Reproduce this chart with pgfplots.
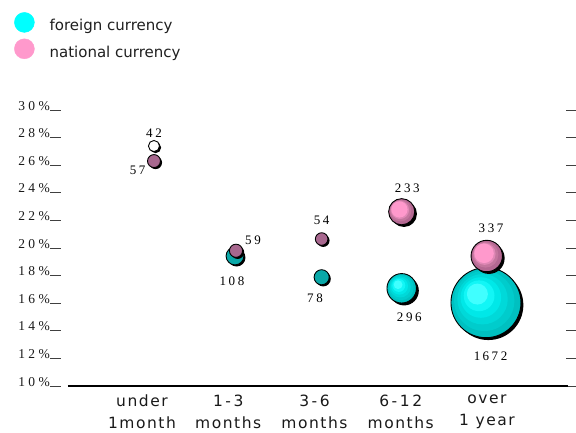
\documentclass[border=0pt]{standalone}
\usepackage{pgfplots}
\usepackage{pgfplotstable}
\pgfplotsset{compat=1.18}
\usepackage{fontspec}
\setmainfont{Liberation Serif}
\newfontfamily\catfont[LetterSpace=10]{DejaVu Sans}
\newfontfamily\legfont{DejaVu Sans}
\newfontfamily\numfont[LetterSpace=25]{Liberation Serif}
\newfontfamily\valfont[LetterSpace=20]{Liberation Serif}

\definecolor{legcyan}{HTML}{00FFFF}
\definecolor{legpink}{HTML}{FF99CC}
\definecolor{fsmall}{HTML}{0AA8A8}
\definecolor{nsmall}{HTML}{A8688F}
% ring colours of the large bubbles, from the rim inwards
\definecolor{fa}{HTML}{00C0C0}
\definecolor{fb}{HTML}{00CCCC}
\definecolor{fc}{HTML}{00D9D9}
\definecolor{fd}{HTML}{00E8E8}
\definecolor{fe}{HTML}{12F6F6}
\definecolor{ff}{HTML}{40FFFF}
\definecolor{na}{HTML}{B46892}
\definecolor{nb}{HTML}{C4769E}
\definecolor{nc}{HTML}{E088B6}
\definecolor{nd}{HTML}{FF99CC}

% bubble radius (pt) of the point being drawn
\def\bubr{2}

% one ring: #1 = share of the radius, #2 = colour, #3 = shift of its centre
% towards the upper left (share of the radius)
\newcommand\bubband[3]{%
  \pgfpathcircle{\pgfpoint{-(1-#1)*#3*\bubr pt}{(1-#1)*#3*\bubr pt}}{#1*\bubr pt}%
  \pgfsetfillcolor{#2}\pgfusepathqfill}
\newcommand\bubshadow[1]{%
  \pgfpathcircle{\pgfqpoint{#1}{-#1}}{\bubr pt}%
  \pgfsetfillcolor{black}\pgfusepathqfill}
\newcommand\bubrim{%
  \pgfpathcircle{\pgfpointorigin}{\bubr pt}%
  \pgfsetstrokecolor{black}\pgfsetlinewidth{0.9pt}\pgfusepathqstroke}

% bubble marks with a black drop shadow
\pgfdeclareplotmark{fball}{%
  \bubshadow{2.4pt}%
  \bubband{1}{fa}{0.35}\bubband{0.86}{fb}{0.35}\bubband{0.72}{fc}{0.35}%
  \bubband{0.58}{fd}{0.35}\bubband{0.44}{fe}{0.35}\bubband{0.3}{ff}{0.35}%
  \bubrim}
\pgfdeclareplotmark{nball}{%
  \bubshadow{2.2pt}%
  \bubband{1}{na}{0.45}\bubband{0.82}{nb}{0.45}\bubband{0.7}{nc}{0.45}%
  \bubband{0.62}{nd}{0.45}%
  \bubrim}
\pgfdeclareplotmark{fflat}{%
  \bubshadow{1.6pt}\bubband{1}{fsmall}{0}\bubrim}
\pgfdeclareplotmark{nflat}{%
  \bubshadow{1.6pt}\bubband{1}{nsmall}{0}\bubrim}
\pgfdeclareplotmark{wflat}{%
  \bubshadow{1.6pt}\bubband{1}{white}{0}\bubrim}

% x = maturity bucket, y = rate in %, v = volume, dx/dy = label offset (pt)
\pgfplotstableread{
x     y     v    dx    dy
1.139 27.39 42   0     12.7
}\foreignwhite
\pgfplotstableread{
x     y     v    dx    dy
2.078 19.42 108  -3    -25
3.083 17.88 78   -6.7  -21
}\foreignsmall
\pgfplotstableread{
x     y     v    dx    dy
4.011 17.08 296  7.6   -29.4
4.988 16.04 1672 4.7   -54
}\foreignlarge
\pgfplotstableread{
x     y     v    dx    dy
1.139 26.30 57   -16.3 -9
2.090 19.80 59   17    11
3.083 20.65 54   0     19
}\nationalsmall
\pgfplotstableread{
x     y     v    dx    dy
4.011 22.63 233  5.6   23.4
4.997 19.42 337  4.3   27.7
}\nationallarge

\pgfplotsset{
  bubble/.style={
    scatter, only marks, forget plot, mark=#1,
    point meta=\thisrow{v},
    scatter/use mapped color={draw=black, fill=black},
    visualization depends on={35*sqrt(\thisrow{v}/1672) \as \bubr},
    visualization depends on={\thisrow{dx} \as \ldx},
    visualization depends on={\thisrow{dy} \as \ldy},
    scatter/@pre marker code/.append style={/tikz/mark size=\bubr},
    nodes near coords={\pgfmathprintnumber[assume math mode=true, 1000 sep={\,}]{\pgfplotspointmeta}},
    every node near coord/.append style={anchor=center, xshift=\ldx pt, yshift=\ldy pt,
      font=\valfont\fontsize{13}{13}\selectfont, text=black, inner sep=0pt},
  },
}

\begin{document}
\begin{tikzpicture}
\path[use as bounding box] (-61pt,-46pt) rectangle (515pt,386pt);
\begin{axis}[
  at={(0pt,0pt)}, anchor=south west,
  scale only axis, width=505pt, height=276pt,
  xmin=0.061, xmax=5.916, ymin=10, ymax=30,
  clip=false,
  axis line style={draw=none},
  xtick={1,2,3,4,5},
  xticklabels={{under\\1month},{1\,-\,3\\months},{3\,-\,6\\months},{6\,-\,1\,2\\months},{over\\1 year}},
  xtick style={draw=none},
  xticklabel style={align=center, font=\catfont\fontsize{15.5}{22}\selectfont,
    text=black!90, inner sep=0pt, anchor=north, yshift=2pt},
  ytick={10,12,...,30},
  yticklabels={10\%,12\%,14\%,16\%,18\%,20\%,22\%,24\%,26\%,28\%,30\%},
  ytick pos=both, yticklabel pos=left,
  tick align=outside, major tick length=11pt,
  ytick style={line width=1pt, draw=black!75},
  yticklabel style={anchor=base east, inner sep=0pt,
    font=\numfont\fontsize{13.5}{13.5}\selectfont, text=black!90},
  legend style={at={(axis description cs:0,1)}, anchor=north west,
    xshift=-47pt, yshift=98pt, draw=none, fill=none, inner sep=0pt,
    font=\legfont\fontsize{15}{15}\selectfont, text=black!88,
    row sep=6pt, column sep=15pt, nodes={inner sep=0pt}},
  legend cell align=left,
]
\addlegendimage{legend image code/.code={\fill[legcyan] (10pt,3.4pt) circle[radius=10pt];}}
\addlegendentry{foreign currency}
\addlegendimage{legend image code/.code={\fill[legpink] (10pt,3.4pt) circle[radius=10pt];}}
\addlegendentry{national currency}

% baseline of the chart
\draw[black, line width=1.2pt] (axis cs:0.142,10) -- (axis cs:5.939,10);

\addplot[bubble=wflat] table[x=x, y=y] {\foreignwhite};
\addplot[bubble=fflat] table[x=x, y=y] {\foreignsmall};
\addplot[bubble=fball] table[x=x, y=y] {\foreignlarge};
\addplot[bubble=nflat] table[x=x, y=y] {\nationalsmall};
\addplot[bubble=nball] table[x=x, y=y] {\nationallarge};
\end{axis}
\end{tikzpicture}
\end{document}
